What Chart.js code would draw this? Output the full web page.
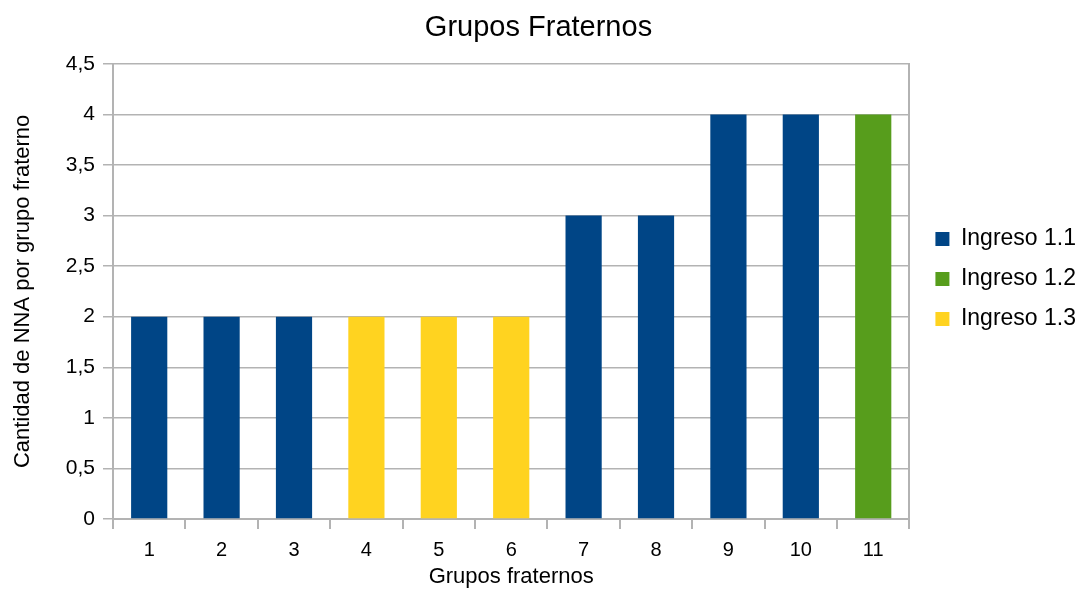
<!DOCTYPE html>
<html>
<head>
<meta charset="utf-8">
<script src="https://cdn.jsdelivr.net/npm/chart.js@4/dist/chart.umd.min.js"></script>
<style>
  html, body { margin: 0; padding: 0; background: #ffffff; }
  #wrap { width: 1084px; height: 590px; }
</style>
</head>
<body>
<div id="wrap"><canvas id="c" width="1084" height="590"></canvas></div>
<script>
// Grupos fraternos: number of NNA per fraternal group, by intake
const categories = ['1', '2', '3', '4', '5', '6', '7', '8', '9', '10', '11'];
const ingreso11 = [2, 2, 2, null, null, null, 3, 3, 4, 4, null];
const ingreso12 = [null, null, null, null, null, null, null, null, null, null, 4];
const ingreso13 = [null, null, null, 2, 2, 2, null, null, null, null, null];
const seriesNames = ['Ingreso 1.1', 'Ingreso 1.2', 'Ingreso 1.3'];
const seriesColors = ['#004586', '#579d1c', '#ffd320'];

const FONT = '"Liberation Sans", Arial, sans-serif';
const GRID = '#b3b3b3';

const commaFormat = v => String(v).replace('.', ',');

// move the legend block slightly right of the plot frame and a bit upward
const legendShift = {
  id: 'legendShift',
  afterLayout(chart) {
    const lg = chart.legend;
    if (lg) {
      lg.left += 9; lg.right += 9;
      lg.top -= 16; lg.bottom -= 16;
    }
  }
};

new Chart(document.getElementById('c'), {
  type: 'bar',
  data: {
    labels: categories,
    datasets: [ingreso11, ingreso12, ingreso13].map((d, i) => ({
      label: seriesNames[i],
      data: d,
      backgroundColor: seriesColors[i],
      borderWidth: 0,
      barPercentage: 0.5,
      categoryPercentage: 1
    }))
  },
  plugins: [legendShift],
  options: {
    responsive: false,
    animation: false,
    layout: { padding: { left: 0, right: 7, top: 0, bottom: 0 } },
    plugins: {
      title: {
        display: true,
        text: 'Grupos Fraternos',
        color: '#000',
        font: { family: FONT, size: 29, weight: 'normal' },
        padding: { top: 11, bottom: 18 }
      },
      legend: {
        position: 'right',
        labels: {
          color: '#000',
          font: { family: FONT, size: 23 },
          boxWidth: 14,
          boxHeight: 14,
          padding: 17
        }
      },
      tooltip: { enabled: false }
    },
    scales: {
      x: {
        stacked: true,
        grid: { display: true, drawOnChartArea: false, offset: true, color: GRID, tickLength: 10, lineWidth: 2 },
        border: { color: GRID, width: 2 },
        ticks: { color: '#000', font: { family: FONT, size: 20 }, padding: 9 },
        title: { display: true, text: 'Grupos fraternos', color: '#000', font: { family: FONT, size: 22 }, padding: { top: 0, bottom: 0 } },
        afterFit: s => { s.height = 71; }
      },
      y: {
        stacked: true,
        min: 0,
        max: 4.5,
        grid: { color: GRID, tickLength: 10, lineWidth: 1.5 },
        border: { color: GRID, width: 2 },
        ticks: { stepSize: 0.5, color: '#000', font: { family: FONT, size: 21 }, padding: 8, callback: v => commaFormat(v) },
        title: { display: true, text: 'Cantidad de NNA por grupo fraterno', color: '#000', font: { family: FONT, size: 22 }, padding: { top: 10, bottom: 0 } },
        afterFit: s => { s.width = 113; }
      },
      yRight: {
        position: 'right',
        min: 0,
        max: 4.5,
        grid: { drawOnChartArea: false, drawTicks: false },
        border: { color: GRID, width: 2 },
        ticks: { display: false },
        afterFit: s => { s.width = 0; }
      }
    }
  }
});
</script>
</body>
</html>
